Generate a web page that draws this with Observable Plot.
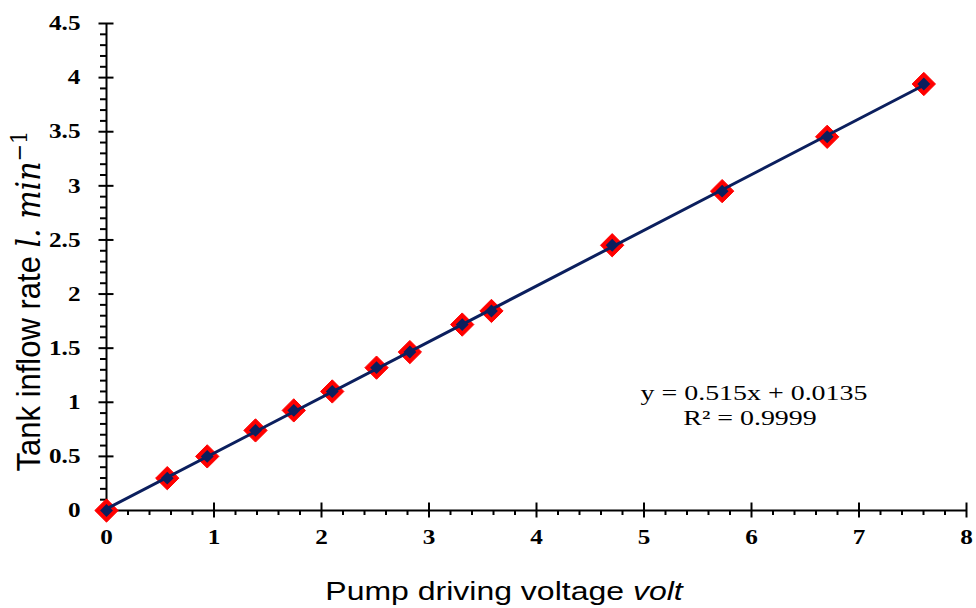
<!DOCTYPE html>
<html>
<head>
<meta charset="utf-8">
<script src="https://cdn.jsdelivr.net/npm/d3@7"></script>
<script src="https://cdn.jsdelivr.net/npm/@observablehq/plot@0.6"></script>
<style>
  html, body { margin: 0; padding: 0; background: #fff; }
  #chart { width: 976px; height: 608px; }
</style>
</head>
<body>
<div id="chart"></div>
<script>
// ---- data ----
const voltage = [0, 0.565, 0.937, 1.386, 1.742, 2.10, 2.512, 2.822, 3.309, 3.581, 4.704, 5.727, 6.704, 7.603];
const flow    = [0, 0.299, 0.50, 0.74, 0.925, 1.10, 1.32, 1.464, 1.718, 1.844, 2.451, 2.951, 3.453, 3.941];
const xMajorTicks = [0, 1, 2, 3, 4, 5, 6, 7, 8];
const xMinorTicks = d3.range(0, 8.0001, 0.2).map(d => +d.toFixed(1)).filter(d => !xMajorTicks.includes(d));
const yMajorTicks = [0, 0.5, 1, 1.5, 2, 2.5, 3, 3.5, 4, 4.5];
const yMinorTicks = d3.range(0, 4.5001, 0.1).map(d => +d.toFixed(1)).filter(d => !yMajorTicks.includes(d));
const xLabelMain = "Pump driving voltage ";
const xLabelUnit = "volt";
const yLabelMain = "Tank inflow rate ";
const yLabelUnit = "l. min";
const yLabelExp = "\u22121";
const eqLine1 = "y = 0.515x + 0.0135";
const eqLine2 = "R\u00b2 = 0.9999";

const data = voltage.map((v, i) => ({voltage: v, flow: flow[i]}));

// ---- layout ----
const W = 976, H = 608;
const mL = 106, mR = 10, mT = 23, mB = 98;
const innerW = W - mL - mR, innerH = H - mT - mB;
const NAVY = "#0b1f5e", RED = "#ff0000";
const STRETCH = 1.2;

const svg = Plot.plot({
  width: W,
  height: H,
  marginLeft: mL,
  marginRight: mR,
  marginTop: mT,
  marginBottom: mB,
  style: {background: "#fff", overflow: "visible"},
  x: {domain: [0, 8]},
  y: {domain: [0, 4.5]},
  marks: [
    // axis lines
    Plot.ruleX([0], {stroke: "#000", strokeWidth: 2}),
    Plot.ruleY([0], {stroke: "#000", strokeWidth: 2}),
    // x ticks
    Plot.tickX(xMajorTicks, {x: d => d, insetTop: innerH - 15, dy: 7.5, stroke: "#000", strokeWidth: 2}),
    Plot.tickX(xMinorTicks, {x: d => d, insetTop: innerH - 5, dy: 5, stroke: "#000", strokeWidth: 2}),
    // y ticks
    Plot.tickY(yMajorTicks, {y: d => d, insetRight: innerW - 15, dx: -7.5, stroke: "#000", strokeWidth: 2}),
    Plot.tickY(yMinorTicks, {y: d => d, insetRight: innerW - 6, dx: -6, stroke: "#000", strokeWidth: 2}),
    // tick labels
    Plot.axisX({ticks: xMajorTicks, tickSize: 0, tickPadding: 19, tickFormat: d => String(d), label: null,
      fontSize: 21, fontWeight: "bold", fontFamily: "Liberation Serif", fill: "#000"}),
    Plot.axisY({ticks: yMajorTicks, tickSize: 0, tickPadding: 26, tickFormat: d => String(d), label: null,
      fontSize: 21, fontWeight: "bold", fontFamily: "Liberation Serif", fill: "#000"}),
    // outer red diamonds
    Plot.dot(data, {x: "voltage", y: "flow", symbol: "diamond2", r: 10.5, fill: RED, stroke: RED, strokeWidth: 1}),
    // regression line
    Plot.linearRegressionY(data, {x: "voltage", y: "flow", ci: 0, stroke: NAVY, strokeWidth: 3}),
    // inner navy diamonds
    Plot.dot(data, {x: "voltage", y: "flow", symbol: "diamond2", r: 5.8, fill: NAVY})
  ]
});

document.getElementById("chart").appendChild(svg);

const NS = "http://www.w3.org/2000/svg";
// stretch tick labels horizontally around their anchor (reference is wider than tall)
function stretchAround(el, s, anchor) {
  const r = el.getBoundingClientRect();
  const sr = svg.getBoundingClientRect();
  const ax = (anchor === "middle" ? (r.left + r.right) / 2 : r.right) - sr.left;
  const pm = el.parentNode.getCTM();
  const axp = pm ? (ax - pm.e) / (pm.a || 1) : ax;
  const g = document.createElementNS(NS, "g");
  g.setAttribute("transform", `translate(${axp},0) scale(${s},1) translate(${-axp},0)`);
  el.parentNode.insertBefore(g, el);
  g.appendChild(el);
}
try {
  d3.select(svg).selectAll('g[aria-label="x-axis tick label"] text').nodes()
    .forEach(el => stretchAround(el, STRETCH, "middle"));
  d3.select(svg).selectAll('g[aria-label="y-axis tick label"] text').nodes()
    .forEach(el => stretchAround(el, STRETCH, "end"));
} catch (e) { console.error(e); }

const root = d3.select(svg);

// x axis title
const xt = root.append("text")
  .attr("transform", `translate(504,600) scale(1.28,1)`)
  .attr("text-anchor", "middle")
  .attr("font-family", "Liberation Sans")
  .attr("font-size", 25)
  .attr("fill", "#000");
xt.append("tspan").text(xLabelMain);
xt.append("tspan").attr("font-style", "italic").text(xLabelUnit);

// y axis title
const yt = root.append("text")
  .attr("transform", `translate(40,301) scale(1.1,1) rotate(-90)`)
  .attr("text-anchor", "middle")
  .attr("font-family", "Liberation Sans")
  .attr("font-size", 31)
  .attr("fill", "#000");
yt.append("tspan").text(yLabelMain);
yt.append("tspan").attr("font-family", "DejaVu Serif").attr("font-style", "italic").attr("font-size", 30).text(yLabelUnit);
yt.append("tspan").attr("font-family", "DejaVu Serif").attr("font-size", 21).attr("dy", -12).text(yLabelExp);

// regression equation annotation
root.append("text")
  .attr("transform", `translate(754,400) scale(1.27,1)`)
  .attr("text-anchor", "middle")
  .attr("font-family", "Liberation Serif")
  .attr("font-size", 22)
  .attr("fill", "#000")
  .text(eqLine1);
root.append("text")
  .attr("transform", `translate(750,425) scale(1.27,1)`)
  .attr("text-anchor", "middle")
  .attr("font-family", "Liberation Serif")
  .attr("font-size", 22)
  .attr("fill", "#000")
  .text(eqLine2);
</script>
</body>
</html>
